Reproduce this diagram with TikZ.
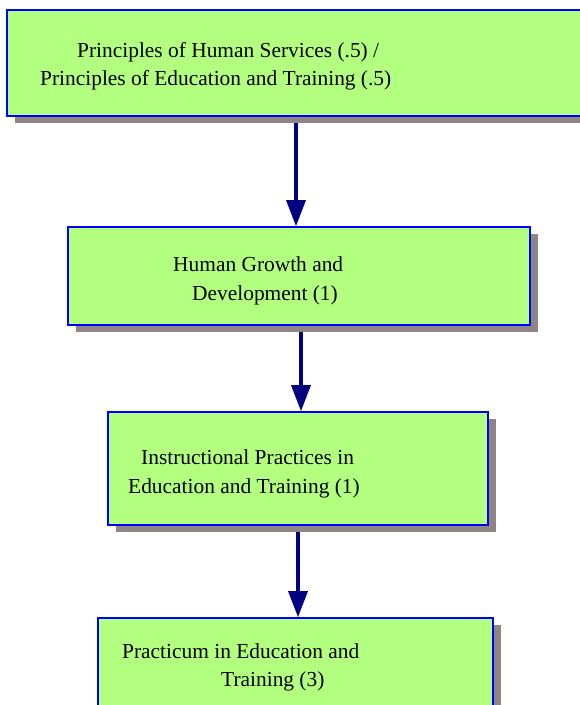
\documentclass[tikz,border=0pt]{standalone}
\usepackage{fontspec}
\setmainfont{Liberation Serif}
\usetikzlibrary{arrows.meta,shadows}
\definecolor{boxfill}{RGB}{179,255,128}
\definecolor{boxline}{RGB}{0,0,255}
\definecolor{shadowgray}{RGB}{143,133,133}
\definecolor{arrowblue}{RGB}{0,0,128}
\pgfdeclarelayer{bg}
\pgfsetlayers{bg,main}
\tikzset{
  box/.style={draw=boxline, line width=1.6pt, fill=boxfill, rectangle, inner sep=0pt,
    drop shadow={shadow xshift=8pt, shadow yshift=-7pt, fill=shadowgray, opacity=1}},
  txt/.style={anchor=base west, inner sep=0pt, font=\fontsize{21.4}{28}\selectfont},
  arr/.style={draw=arrowblue, line width=3.3pt, -{Triangle[width=19pt,length=26pt]}}
}
\begin{document}
\begin{tikzpicture}[x=1pt,y=-1pt]
\useasboundingbox (0,0) rectangle (580,705);
% boxes
\node[box, minimum width=593pt, minimum height=106pt] (b1) at (303.5,63) {};
\node[box, minimum width=462pt, minimum height=98pt] (b2) at (299,276) {};
\node[box, minimum width=380pt, minimum height=113pt] (b3) at (298,468.5) {};
\node[box, minimum width=395pt, minimum height=150pt] (b4) at (295.5,693) {};
% texts
\node[txt] (t1a) at (77,57) {Principles of Human Services (.5) /};
\node[txt] (t1b) at (40,85) {Principles of Education and Training (.5)};
\node[txt] (t2a) at (173,271) {Human Growth and};
\node[txt] (t2b) at (192,300) {Development (1)};
\node[txt] (t3a) at (141,464) {Instructional Practices in};
\node[txt] (t3b) at (128,493) {Education and Training (1)};
\node[txt] (t4a) at (122,658) {Practicum in Education and};
\node[txt] (t4b) at (221,686) {Training (3)};
% arrows
\coordinate (x1) at (296,0);
\coordinate (x2) at (301,0);
\coordinate (x3) at (298,0);
\begin{pgfonlayer}{bg}
\draw[arr] (b1.south -| x1) -- (b2.north -| x1);
\draw[arr] (b2.south -| x2) -- (b3.north -| x2);
\draw[arr] (b3.south -| x3) -- (b4.north -| x3);
\end{pgfonlayer}
\end{tikzpicture}
\end{document}
